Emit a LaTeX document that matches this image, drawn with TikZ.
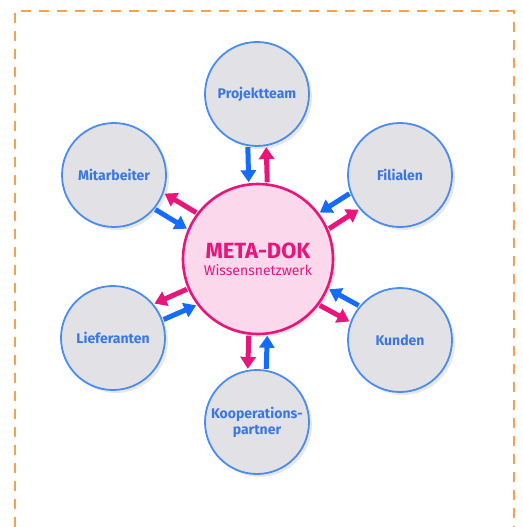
\documentclass[tikz,border=0pt]{standalone}
\usepackage{fontspec}
\setmainfont{Fira Sans}
\usetikzlibrary{shapes,arrows.meta,shadows}
\definecolor{metapink}{RGB}{232,22,122}
\definecolor{metarose}{RGB}{252,216,236}
\definecolor{partblue}{RGB}{74,140,240}
\definecolor{partfill}{RGB}{226,226,230}
\definecolor{partlabel}{RGB}{58,118,228}
\definecolor{flowblue}{RGB}{22,108,250}
\definecolor{frameorange}{RGB}{247,160,80}
\tikzstyle{partner} = [draw=partblue, fill=partfill, circle, line width=1.8pt,
    minimum size=104pt, inner sep=0pt, align=center, text=partlabel,
    font=\fontsize{14}{16}\selectfont\bfseries,
    drop shadow={shadow xshift=3pt, shadow yshift=-3pt, opacity=0.18}]
\tikzstyle{hubnode} = [draw=metapink, fill=metarose, circle, line width=2.6pt,
    minimum size=150pt, inner sep=0pt, align=center, text=metapink,
    drop shadow={shadow xshift=3pt, shadow yshift=-3pt, opacity=0.18}]
\tikzstyle{inflow} = [draw=flowblue, line width=5pt,
    -{Triangle[length=12pt,width=15pt]}, shorten >=1pt, shorten <=1pt]
\tikzstyle{outflow} = [draw=metapink, line width=5pt,
    -{Triangle[length=12pt,width=15pt]}, shorten >=1pt, shorten <=1pt]

\begin{document}
\begin{tikzpicture}[x=1pt, y=-1pt]
\useasboundingbox (0,0) rectangle (522,527);
\draw[frameorange, line width=2.4pt, dash pattern=on 10pt off 8pt]
    (15,527) -- (15,11) -- (514,11) -- (514,527);

\node [hubnode] (meta) at (258,259)
    {{\fontsize{22}{24}\selectfont\bfseries META-DOK}\\[5pt]{\fontsize{14}{16}\selectfont Wissensnetzwerk}};

\node [partner] (projekt) at (257,94) {Projektteam};
\node [partner] (filialen) at (400,175) {Filialen};
\node [partner] (kunden) at (400,340) {Kunden};
\node [partner] (koop) at (257,422) {Kooperations-\\partner};
\node [partner] (lief) at (113,338) {Lieferanten};
\node [partner] (mitarb) at (114,175) {Mitarbeiter};

\draw [inflow] (projekt.260) -- (meta.97);
\draw [outflow] (meta.83) -- (projekt.280);
\draw [inflow] (filialen.200) -- (meta.37);
\draw [outflow] (meta.23) -- (filialen.220);
\draw [inflow] (kunden.140) -- (meta.-23);
\draw [outflow] (meta.-37) -- (kunden.160);
\draw [inflow] (koop.80) -- (meta.-83);
\draw [outflow] (meta.-97) -- (koop.100);
\draw [inflow] (lief.20) -- (meta.217);
\draw [outflow] (meta.203) -- (lief.40);
\draw [inflow] (mitarb.320) -- (meta.157);
\draw [outflow] (meta.143) -- (mitarb.340);

\end{tikzpicture}
\end{document}
